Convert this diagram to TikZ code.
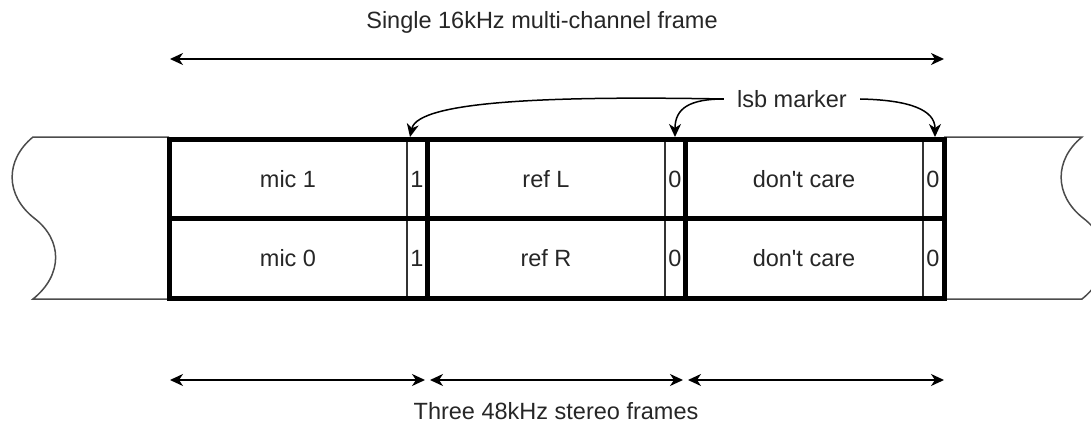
\documentclass[tikz,border=0pt]{standalone}
\usepackage{fontspec}
\setmainfont{Liberation Sans}
\usetikzlibrary{arrows.meta}
\begin{document}
\begin{tikzpicture}[x=1pt,y=-1pt,
  txt/.style={inner sep=0pt,font=\fontsize{23.5}{28}\selectfont,text=black!85},
  thick frame/.style={line width=5pt,line cap=rect},
  thin div/.style={line width=1.2pt,draw=black!80},
  torn/.style={line width=1.5pt,draw=black!70},
  dim/.style={line width=1.8pt,{Stealth[length=13pt,width=12pt,inset=4pt]}-{Stealth[length=13pt,width=12pt,inset=4pt]}},
  conn/.style={line width=1.5pt,-{Stealth[length=13pt,width=12pt,inset=4pt]}}]
\useasboundingbox (0,0) rectangle (1091,433);
% torn edges
\draw[torn] (169,137) -- (33,137) .. controls (5,160) and (5,195) .. (34,218)
  .. controls (63,240) and (63,275) .. (33,299) -- (169,299);
\draw[torn] (944,137) -- (1082,137) .. controls (1054,160) and (1054,195) .. (1083,218)
  .. controls (1112,240) and (1112,275) .. (1082,299) -- (944,299);
% thin dividers
\draw[thin div] (407,139) -- (407,298);
\draw[thin div] (665,139) -- (665,298);
\draw[thin div] (923,139) -- (923,298);
% thick frame
\draw[thick frame] (169,139) rectangle (944,298);
\draw[thick frame] (169,218.5) -- (944,218.5);
\draw[thick frame] (427,139) -- (427,298);
\draw[thick frame] (685,139) -- (685,298);
% cell texts
\node[txt] (m1) at (288,179) {mic 1};
\node[txt] (m0) at (288,258) {mic 0};
\node[txt] (b1a) at (417,179) {1};
\node[txt] (b1b) at (417,258) {1};
\node[txt] (rl) at (546,179) {ref L};
\node[txt] (rr) at (546,258) {ref R};
\node[txt] (b2a) at (675,179) {0};
\node[txt] (b2b) at (675,258) {0};
\node[txt] (dc1) at (804,179) {don\textquotesingle t care};
\node[txt] (dc0) at (804,258) {don\textquotesingle t care};
\node[txt] (b3a) at (933,179) {0};
\node[txt] (b3b) at (933,258) {0};
% top title and arrow
\node[txt] (title) at (542,22) {Single 16kHz multi-channel frame};
\coordinate (tl) at (170,59);
\coordinate (tr) at (944,59);
\draw[dim] (tl) -- (tr);
% lsb marker
\node[txt,inner xsep=13pt] (lsb) at (792,99) {lsb marker};
\coordinate (t1) at (410,137);
\coordinate (t2) at (675,137);
\coordinate (t3) at (935,137);
\draw[conn] (lsb.west) .. controls (560,96) and (418,100) .. (t1);
\draw[conn] (lsb.west) .. controls (690,99) and (675,108) .. (t2);
\draw[conn] (lsb.east) .. controls (910,100) and (935,110) .. (t3);
% bottom arrows
\coordinate (b0) at (170,380);
\coordinate (b1) at (425,380);
\coordinate (b2) at (430,380);
\coordinate (b3) at (683,380);
\coordinate (b4) at (688,380);
\coordinate (b5) at (944,380);
\draw[dim] (b0) -- (b1);
\draw[dim] (b2) -- (b3);
\draw[dim] (b4) -- (b5);
\node[txt] (bottom) at (556,411) {Three 48kHz stereo frames};
\end{tikzpicture}
\end{document}
